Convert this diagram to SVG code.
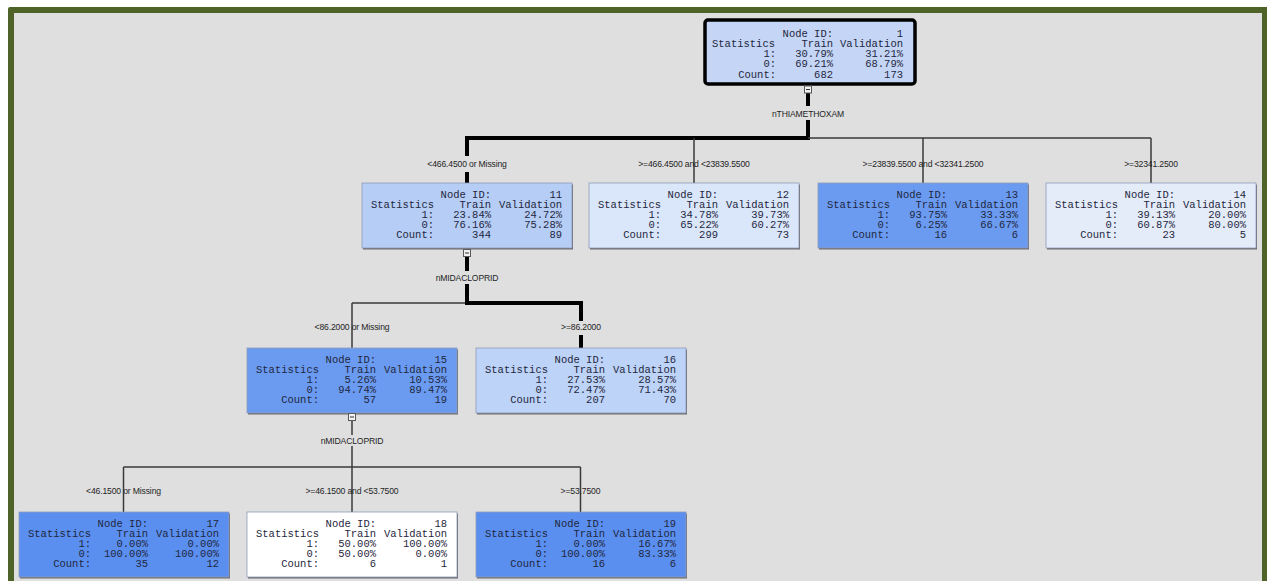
<svg xmlns="http://www.w3.org/2000/svg" width="1267" height="581" viewBox="0 0 1267 581">
<style>
.bx{stroke:#8e9cb8;stroke-width:0.8}
.sh{fill:#6a6a6a}
.t{font-family:"Liberation Mono","Courier New",monospace;font-size:10.5px;fill:#1f2740}
.e{text-anchor:end}
.lbl{font-family:"Liberation Sans",Arial,sans-serif;font-size:8.6px;fill:#1e1e1e;text-anchor:middle;letter-spacing:-0.15px}
.thin{stroke:#3a3a3a;stroke-width:1.5;fill:none}
.thick{stroke:#000;stroke-width:4;fill:none}
.btn{fill:#f2f2f2;stroke:#5a5a5a;stroke-width:1}
.mn{stroke:#333;stroke-width:1}
</style>
<rect x="0" y="0" width="1267" height="581" fill="#ffffff"/>
<rect x="8" y="7" width="1262" height="580" rx="2" fill="#4f6328"/>
<rect x="14" y="13" width="1248" height="570" fill="#dfdfdf"/>

<g id="connectors">
  <line class="thick" x1="808" y1="93" x2="808" y2="106"/>
  <line class="thick" x1="808" y1="120" x2="808" y2="140"/>
  <text class="lbl" x="808" y="117">nTHIAMETHOXAM</text>
  <line class="thick" x1="465" y1="138" x2="810" y2="138"/>
  <line class="thin" x1="808" y1="138" x2="1151" y2="138"/>
  <line class="thick" x1="467" y1="136" x2="467" y2="156"/>
  <line class="thick" x1="467" y1="172" x2="467" y2="183"/>
  <line class="thin" x1="694" y1="138" x2="694" y2="183"/>
  <line class="thin" x1="923" y1="138" x2="923" y2="183"/>
  <line class="thin" x1="1151" y1="138" x2="1151" y2="183"/>
  <text class="lbl" x="467" y="167">&lt;466.4500 or Missing</text>
  <text class="lbl" x="694" y="167">&gt;=466.4500 and &lt;23839.5500</text>
  <text class="lbl" x="923" y="167">&gt;=23839.5500 and &lt;32341.2500</text>
  <text class="lbl" x="1151" y="167">&gt;=32341.2500</text>
  <line class="thick" x1="467" y1="256" x2="467" y2="271"/>
  <line class="thick" x1="467" y1="284" x2="467" y2="305"/>
  <text class="lbl" x="467" y="281">nMIDACLOPRID</text>
  <line class="thin" x1="352" y1="303" x2="467" y2="303"/>
  <line class="thick" x1="465" y1="303" x2="583" y2="303"/>
  <line class="thin" x1="352" y1="303" x2="352" y2="348"/>
  <line class="thick" x1="581" y1="301" x2="581" y2="321"/>
  <line class="thick" x1="581" y1="335" x2="581" y2="348"/>
  <text class="lbl" x="352" y="330">&lt;86.2000 or Missing</text>
  <text class="lbl" x="581" y="330">&gt;=86.2000</text>
  <line class="thin" x1="352" y1="420" x2="352" y2="435"/>
  <line class="thin" x1="352" y1="446" x2="352" y2="467"/>
  <text class="lbl" x="352" y="444">nMIDACLOPRID</text>
  <line class="thin" x1="123.5" y1="467" x2="580.5" y2="467"/>
  <line class="thin" x1="123.5" y1="467" x2="123.5" y2="512"/>
  <line class="thin" x1="352" y1="467" x2="352" y2="512"/>
  <line class="thin" x1="580.5" y1="467" x2="580.5" y2="512"/>
  <text class="lbl" x="123.5" y="494">&lt;46.1500 or Missing</text>
  <text class="lbl" x="352" y="494">&gt;=46.1500 and &lt;53.7500</text>
  <text class="lbl" x="580.5" y="494">&gt;=53.7500</text>
</g>

<g id="node1">
  <rect x="705" y="20" width="210" height="64" rx="3" fill="#c4d5f5" stroke="#000" stroke-width="3.5"/>
  <text class="t e" x="833" y="36.5">Node ID:</text><text class="t e" x="903" y="36.5">1</text>
  <text class="t" x="712" y="46.8">Statistics</text><text class="t e" x="833" y="46.8">Train</text><text class="t e" x="903" y="46.8">Validation</text>
  <text class="t e" x="776" y="57.1">1:</text><text class="t e" x="833" y="57.1">30.79%</text><text class="t e" x="903" y="57.1">31.21%</text>
  <text class="t e" x="776" y="67.4">0:</text><text class="t e" x="833" y="67.4">69.21%</text><text class="t e" x="903" y="67.4">68.79%</text>
  <text class="t e" x="776" y="77.7">Count:</text><text class="t e" x="833" y="77.7">682</text><text class="t e" x="903" y="77.7">173</text>
  <rect class="btn" x="804.5" y="86" width="7" height="7"/><line class="mn" x1="806" y1="89.5" x2="810" y2="89.5"/>
</g>

<g id="node11">
  <rect class="sh" x="363" y="184.5" width="210" height="65"/>
  <rect class="bx" x="362" y="183" width="210" height="65" fill="#b6cdf5"/>
  <text class="t e" x="491" y="197.5">Node ID:</text><text class="t e" x="562" y="197.5">11</text>
  <text class="t" x="371" y="207.5">Statistics</text><text class="t e" x="491" y="207.5">Train</text><text class="t e" x="562" y="207.5">Validation</text>
  <text class="t e" x="434" y="217.5">1:</text><text class="t e" x="491" y="217.5">23.84%</text><text class="t e" x="562" y="217.5">24.72%</text>
  <text class="t e" x="434" y="227.5">0:</text><text class="t e" x="491" y="227.5">76.16%</text><text class="t e" x="562" y="227.5">75.28%</text>
  <text class="t e" x="434" y="237.5">Count:</text><text class="t e" x="491" y="237.5">344</text><text class="t e" x="562" y="237.5">89</text>
  <rect class="btn" x="463.5" y="249.5" width="7" height="7"/><line class="mn" x1="465" y1="253" x2="469" y2="253"/>
</g>

<g id="node12">
  <rect class="sh" x="590" y="184.5" width="210" height="65"/>
  <rect class="bx" x="589" y="183" width="210" height="65" fill="#dae6fa"/>
  <text class="t e" x="718" y="197.5">Node ID:</text><text class="t e" x="789" y="197.5">12</text>
  <text class="t" x="598" y="207.5">Statistics</text><text class="t e" x="718" y="207.5">Train</text><text class="t e" x="789" y="207.5">Validation</text>
  <text class="t e" x="661" y="217.5">1:</text><text class="t e" x="718" y="217.5">34.78%</text><text class="t e" x="789" y="217.5">39.73%</text>
  <text class="t e" x="661" y="227.5">0:</text><text class="t e" x="718" y="227.5">65.22%</text><text class="t e" x="789" y="227.5">60.27%</text>
  <text class="t e" x="661" y="237.5">Count:</text><text class="t e" x="718" y="237.5">299</text><text class="t e" x="789" y="237.5">73</text>
</g>

<g id="node13">
  <rect class="sh" x="819" y="184.5" width="210" height="65"/>
  <rect class="bx" x="818" y="183" width="210" height="65" fill="#6b9bf0"/>
  <text class="t e" x="947" y="197.5">Node ID:</text><text class="t e" x="1018" y="197.5">13</text>
  <text class="t" x="827" y="207.5">Statistics</text><text class="t e" x="947" y="207.5">Train</text><text class="t e" x="1018" y="207.5">Validation</text>
  <text class="t e" x="890" y="217.5">1:</text><text class="t e" x="947" y="217.5">93.75%</text><text class="t e" x="1018" y="217.5">33.33%</text>
  <text class="t e" x="890" y="227.5">0:</text><text class="t e" x="947" y="227.5">6.25%</text><text class="t e" x="1018" y="227.5">66.67%</text>
  <text class="t e" x="890" y="237.5">Count:</text><text class="t e" x="947" y="237.5">16</text><text class="t e" x="1018" y="237.5">6</text>
</g>

<g id="node14">
  <rect class="sh" x="1047" y="184.5" width="210" height="65"/>
  <rect class="bx" x="1046" y="183" width="210" height="65" fill="#e4ecfa"/>
  <text class="t e" x="1175" y="197.5">Node ID:</text><text class="t e" x="1246" y="197.5">14</text>
  <text class="t" x="1055" y="207.5">Statistics</text><text class="t e" x="1175" y="207.5">Train</text><text class="t e" x="1246" y="207.5">Validation</text>
  <text class="t e" x="1118" y="217.5">1:</text><text class="t e" x="1175" y="217.5">39.13%</text><text class="t e" x="1246" y="217.5">20.00%</text>
  <text class="t e" x="1118" y="227.5">0:</text><text class="t e" x="1175" y="227.5">60.87%</text><text class="t e" x="1246" y="227.5">80.00%</text>
  <text class="t e" x="1118" y="237.5">Count:</text><text class="t e" x="1175" y="237.5">23</text><text class="t e" x="1246" y="237.5">5</text>
</g>

<g id="node15">
  <rect class="sh" x="248" y="349.5" width="210" height="65"/>
  <rect class="bx" x="247" y="348" width="210" height="65" fill="#6b9bf0"/>
  <text class="t e" x="376" y="362.5">Node ID:</text><text class="t e" x="447" y="362.5">15</text>
  <text class="t" x="256" y="372.5">Statistics</text><text class="t e" x="376" y="372.5">Train</text><text class="t e" x="447" y="372.5">Validation</text>
  <text class="t e" x="319" y="382.5">1:</text><text class="t e" x="376" y="382.5">5.26%</text><text class="t e" x="447" y="382.5">10.53%</text>
  <text class="t e" x="319" y="392.5">0:</text><text class="t e" x="376" y="392.5">94.74%</text><text class="t e" x="447" y="392.5">89.47%</text>
  <text class="t e" x="319" y="402.5">Count:</text><text class="t e" x="376" y="402.5">57</text><text class="t e" x="447" y="402.5">19</text>
  <rect class="btn" x="348.5" y="413.5" width="7" height="7"/><line class="mn" x1="350" y1="417" x2="354" y2="417"/>
</g>

<g id="node16">
  <rect class="sh" x="477" y="349.5" width="210" height="65"/>
  <rect class="bx" x="476" y="348" width="210" height="65" fill="#bdd3f7"/>
  <text class="t e" x="605" y="362.5">Node ID:</text><text class="t e" x="676" y="362.5">16</text>
  <text class="t" x="485" y="372.5">Statistics</text><text class="t e" x="605" y="372.5">Train</text><text class="t e" x="676" y="372.5">Validation</text>
  <text class="t e" x="548" y="382.5">1:</text><text class="t e" x="605" y="382.5">27.53%</text><text class="t e" x="676" y="382.5">28.57%</text>
  <text class="t e" x="548" y="392.5">0:</text><text class="t e" x="605" y="392.5">72.47%</text><text class="t e" x="676" y="392.5">71.43%</text>
  <text class="t e" x="548" y="402.5">Count:</text><text class="t e" x="605" y="402.5">207</text><text class="t e" x="676" y="402.5">70</text>
</g>

<g id="node17">
  <rect class="sh" x="20" y="513.5" width="210" height="65"/>
  <rect class="bx" x="19" y="512" width="210" height="65" fill="#5b8fef"/>
  <text class="t e" x="148" y="526.5">Node ID:</text><text class="t e" x="219" y="526.5">17</text>
  <text class="t" x="28" y="536.5">Statistics</text><text class="t e" x="148" y="536.5">Train</text><text class="t e" x="219" y="536.5">Validation</text>
  <text class="t e" x="91" y="546.5">1:</text><text class="t e" x="148" y="546.5">0.00%</text><text class="t e" x="219" y="546.5">0.00%</text>
  <text class="t e" x="91" y="556.5">0:</text><text class="t e" x="148" y="556.5">100.00%</text><text class="t e" x="219" y="556.5">100.00%</text>
  <text class="t e" x="91" y="566.5">Count:</text><text class="t e" x="148" y="566.5">35</text><text class="t e" x="219" y="566.5">12</text>
</g>

<g id="node18">
  <rect class="sh" x="248" y="513.5" width="210" height="65"/>
  <rect class="bx" x="247" y="512" width="210" height="65" fill="#ffffff"/>
  <text class="t e" x="376" y="526.5">Node ID:</text><text class="t e" x="447" y="526.5">18</text>
  <text class="t" x="256" y="536.5">Statistics</text><text class="t e" x="376" y="536.5">Train</text><text class="t e" x="447" y="536.5">Validation</text>
  <text class="t e" x="319" y="546.5">1:</text><text class="t e" x="376" y="546.5">50.00%</text><text class="t e" x="447" y="546.5">100.00%</text>
  <text class="t e" x="319" y="556.5">0:</text><text class="t e" x="376" y="556.5">50.00%</text><text class="t e" x="447" y="556.5">0.00%</text>
  <text class="t e" x="319" y="566.5">Count:</text><text class="t e" x="376" y="566.5">6</text><text class="t e" x="447" y="566.5">1</text>
</g>

<g id="node19">
  <rect class="sh" x="477" y="513.5" width="210" height="65"/>
  <rect class="bx" x="476" y="512" width="210" height="65" fill="#5b8fef"/>
  <text class="t e" x="605" y="526.5">Node ID:</text><text class="t e" x="676" y="526.5">19</text>
  <text class="t" x="485" y="536.5">Statistics</text><text class="t e" x="605" y="536.5">Train</text><text class="t e" x="676" y="536.5">Validation</text>
  <text class="t e" x="548" y="546.5">1:</text><text class="t e" x="605" y="546.5">0.00%</text><text class="t e" x="676" y="546.5">16.67%</text>
  <text class="t e" x="548" y="556.5">0:</text><text class="t e" x="605" y="556.5">100.00%</text><text class="t e" x="676" y="556.5">83.33%</text>
  <text class="t e" x="548" y="566.5">Count:</text><text class="t e" x="605" y="566.5">16</text><text class="t e" x="676" y="566.5">6</text>
</g>
</svg>
